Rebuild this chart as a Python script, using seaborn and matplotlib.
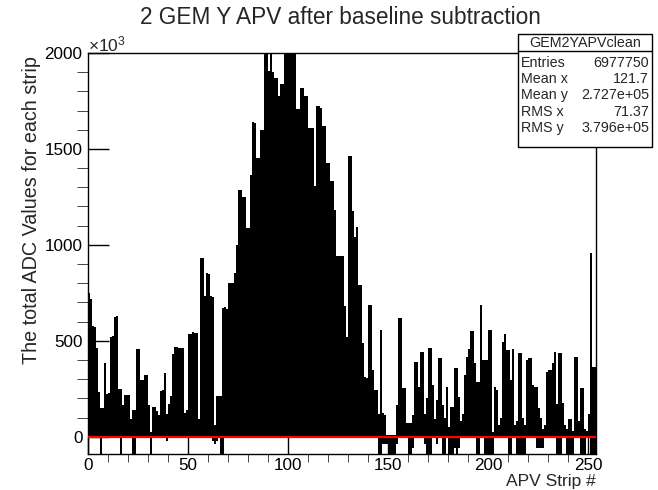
import numpy as np
import pandas as pd
import matplotlib
matplotlib.use("Agg")
import matplotlib.pyplot as plt
import seaborn as sns
from matplotlib.ticker import MultipleLocator
from matplotlib.patches import Rectangle

# ---- data (ADC totals in units of 10^3) ----
strips = list(range(254))
adc_pos = [
    750, 720, 575, 570, 460, 235, 150, 150, 385, 225,
    230, 520, 525, 625, 627, 250, 250, 165, 220, 220,
    215, 95, 140, 140, 458, 458, 296, 296, 322, 322,
    165, 25, 157, 157, 134, 113, 238, 245, 330, 120,
    170, 214, 430, 470, 470, 461, 461, 461, 122, 139,
    534, 536, 548, 540, 543, 95, 931, 931, 731, 853,
    848, 731, 726, 60, 214, 214, 214, 670, 675, 665,
    800, 800, 800, 853, 1000, 1288, 1288, 1248, 1248, 1088,
    1090, 1363, 1640, 1636, 1453, 1453, 1601, 1601, 2050, 2050,
    1906, 1993, 1900, 1871, 1871, 1775, 1836, 1836, 2050, 2050,
    2050, 2050, 2050, 2050, 1706, 1706, 1819, 1819, 1775, 1775,
    1610, 1610, 1610, 1305, 1723, 1723, 1714, 1619, 1619, 1427,
    1427, 1332, 1332, 1184, 940, 940, 940, 940, 679, 522,
    1462, 1462, 1175, 1039, 1091, 792, 792, 487, 313, 308,
    688, 688, 348, 244, 244, 120, 557, 122, 113, 9,
    9, 9, 9, 9, 165, 621, 621, 252, 252, 70,
    70, 70, 113, 392, 392, 261, 444, 444, 120, 200,
    465, 465, 270, 95, 191, 409, 409, 165, 100, 261,
    50, 157, 157, 357, 357, 209, 80, 120, 322, 418,
    456, 552, 552, 383, 287, 287, 688, 400, 400, 400,
    557, 557, 26, 261, 244, 60, 100, 496, 534, 452,
    452, 296, 458, 60, 80, 439, 439, 100, 60, 400,
    409, 409, 270, 261, 261, 148, 100, 40, 60, 339,
    348, 348, 383, 444, 170, 439, 439, 174, 61, 40,
    90, 90, 30, 418, 418, 84, 252, 252, 40, 30,
    120, 957, 366, 366,
]
neg_strips = [6, 16, 22, 23, 31, 39, 62, 63, 64, 66, 67,
              145, 146, 147, 148, 149, 150, 151, 152, 153, 154,
              160, 161, 162, 168, 169, 170, 171, 174, 177, 178,
              180, 181, 182, 183, 184, 185, 194, 195, 198, 199,
              200, 201, 202, 210, 211, 214, 215, 216, 217, 218,
              224, 225, 226, 227, 234, 235, 236, 239, 240, 241,
              242, 246, 247, 248, 251, 252, 253]
neg_vals = [-150, -150, -150, -150, -150, -20, -20, -40, -20, -150, -150,
            -150, -150, -40, -40, -40, -150, -150, -150, -150, -40,
            -150, -150, -60, -40, -150, -150, -150, -40, -150, -150,
            -150, -150, -150, -60, -150, -60, -150, -150, -150, -150,
            -150, -150, -150, -150, -150, -150, -150, -150, -150, -150,
            -60, -60, -60, -60, -150, -150, -150, -150, -150, -150,
            -150, -150, -150, -150, -150, -150, -150]

title = "2 GEM Y APV after baseline subtraction"
xlabel = "APV Strip #"
ylabel = "The total ADC Values for each strip"
stats_name = "GEM2YAPVclean"
stats_rows = [("Entries", "6977750"), ("Mean x", "121.7"), ("Mean y", "2.727e+05"),
              ("RMS x", "71.37"), ("RMS y", "3.796e+05")]

sns.set_style("white")
plt.rcParams['font.family'] = ['Liberation Sans', 'DejaVu Sans']
plt.rcParams['mathtext.fontset'] = 'custom'
plt.rcParams['mathtext.rm'] = 'Liberation Sans'

W, H = 658, 490
fig = plt.figure(figsize=(W / 100, H / 100), dpi=100)
ax = fig.add_axes([88 / W, 1 - 454 / H, (596 - 88) / W, (454 - 53) / H])

df = pd.DataFrame({"strip": np.array(strips) + 0.5, "adc": adc_pos})
sns.barplot(data=df, x="strip", y="adc", native_scale=True, color="black",
            saturation=1, width=1, errorbar=None, linewidth=0, edgecolor="black", ax=ax)
dfn = pd.DataFrame({"strip": np.array(neg_strips) + 0.5, "adc": neg_vals})
sns.barplot(data=dfn, x="strip", y="adc", native_scale=True, color="black",
            saturation=1, width=1, errorbar=None, linewidth=0, edgecolor="black", ax=ax)

ax.axhline(0, color="red", lw=1.6, zorder=5)
ax.set_xlim(0, 254)
ax.set_ylim(-90, 2000)

ax.xaxis.set_major_locator(MultipleLocator(50))
ax.xaxis.set_minor_locator(MultipleLocator(10))
ax.yaxis.set_major_locator(MultipleLocator(500))
ax.yaxis.set_minor_locator(MultipleLocator(100))
ax.tick_params(direction="in", colors="black", width=1, labelsize=12.3)
ax.tick_params(axis="y", which="major", length=15, pad=4)
ax.tick_params(axis="y", which="minor", length=8)
ax.tick_params(axis="x", which="major", length=12, pad=3)
ax.tick_params(axis="x", which="minor", length=6)
ax.tick_params(left=True, bottom=True, top=False, right=False, which="both")
for s in ax.spines.values():
    s.set_visible(True)
    s.set_color("black")
    s.set_linewidth(1)
ax.set_xlabel("")
ax.set_ylabel("")

fig.text(88 / W, 1 - 54 / H, r"$\mathregular{\times10^{3}}$", ha="left", va="bottom", fontsize=12.5)
fig.text(340 / W, 1 - 17 / H, title, ha="center", va="center", fontsize=16.3)
fig.text(32 / W, 1 - 56 / H, ylabel, rotation=90, ha="center", va="top", fontsize=14.2)
fig.text(596 / W, 1 - 489 / H, xlabel, ha="right", va="bottom", fontsize=12.5)

# stats box
bx0, bx1, by0, by1, bsep = 518, 652, 34, 147, 51
fig.patches.append(Rectangle((bx0 / W, 1 - by1 / H), (bx1 - bx0) / W, (by1 - by0) / H,
                             transform=fig.transFigure, facecolor="white", edgecolor="black",
                             lw=1, zorder=10))
fig.lines.append(plt.Line2D([bx0 / W, bx1 / W], [1 - bsep / H, 1 - bsep / H],
                            transform=fig.transFigure, color="black", lw=1, zorder=11))
fig.text((bx0 + bx1) / 2 / W, 1 - 43 / H, stats_name, ha="center", va="center", fontsize=10.3, zorder=12)
row_y = [63, 79, 95, 112, 128]
for (k, v), yy in zip(stats_rows, row_y):
    fig.text((bx0 + 3) / W, 1 - yy / H, k, ha="left", va="center", fontsize=10.3, zorder=12)
    fig.text((bx1 - 3) / W, 1 - yy / H, v, ha="right", va="center", fontsize=10.3, zorder=12)

fig.savefig("out.png", dpi=100)
